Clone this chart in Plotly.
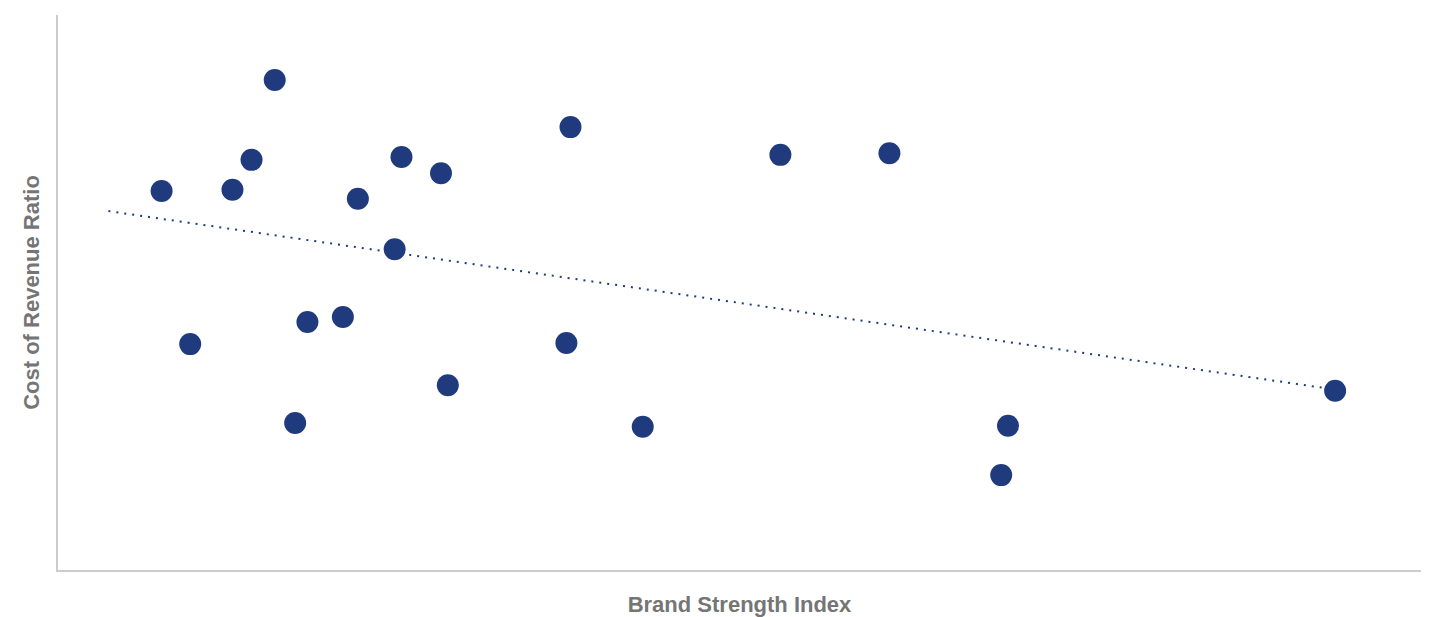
import numpy as np
import plotly.graph_objects as go

brand_strength = [7.6, 9.7, 12.8, 14.2, 15.9, 17.4, 18.3, 20.9, 22.0, 24.7, 25.2,
                  28.1, 28.6, 37.3, 37.6, 42.9, 53.0, 61.0, 69.2, 69.7, 93.7]
cost_ratio = [68.3, 40.7, 68.5, 73.9, 88.3, 26.5, 44.7, 45.6, 66.9, 57.8, 74.4,
              71.5, 33.3, 40.9, 79.8, 25.8, 74.8, 75.1, 17.1, 26.0, 32.3]
trend_start = 3.7

x = np.array(brand_strength)
y = np.array(cost_ratio)
slope, intercept = np.polyfit(x, y, 1)
tx = np.array([trend_start, x.max()])
ty = slope * tx + intercept

blue = "#1F3B7D"
fig = go.Figure()
fig.add_trace(go.Scatter(x=tx, y=ty, mode="lines",
                         line=dict(color=blue, width=2, dash="2px,6px"),
                         hoverinfo="skip", showlegend=False))
fig.add_trace(go.Scatter(x=brand_strength, y=cost_ratio, mode="markers",
                         marker=dict(color=blue, size=22, line=dict(width=0)),
                         showlegend=False))

title_font = dict(family="Liberation Sans, Arial, sans-serif", size=22, color="#757575")
fig.update_layout(
    width=1421, height=609,
    margin=dict(l=50, r=8, t=7, b=47),
    paper_bgcolor="white", plot_bgcolor="white",
    xaxis=dict(range=[0, 100], showgrid=False, zeroline=False, showticklabels=False,
               ticks="", showline=True, linecolor="#cccccc", linewidth=2,
               title=dict(text="<b>Brand Strength Index</b>", font=title_font, standoff=26)),
    yaxis=dict(range=[0, 100], showgrid=False, zeroline=False, showticklabels=False,
               ticks="", showline=True, linecolor="#cccccc", linewidth=2,
               title=dict(text="<b>Cost of Revenue Ratio</b>", font=title_font, standoff=10)),
)
fig.write_html("out.html")
